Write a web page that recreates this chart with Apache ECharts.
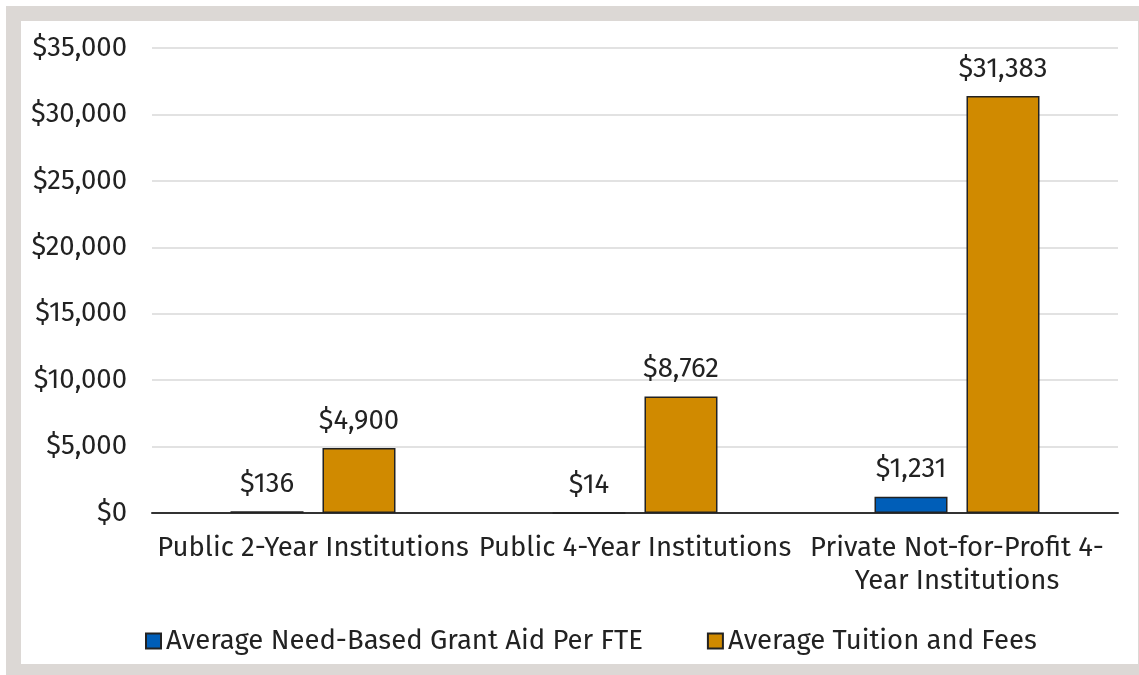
<!DOCTYPE html>
<html>
<head>
<meta charset="utf-8">
<script src="https://cdn.jsdelivr.net/npm/echarts@6/dist/echarts.min.js"></script>
<style>
html,body{margin:0;padding:0;background:#fff;}
#chart{width:1139px;height:675px;}
</style>
</head>
<body>
<div id="chart"></div>
<script>
const categories = ["Public 2-Year Institutions", "Public 4-Year Institutions", "Private Not-for-Profit 4-\nYear Institutions"];
const grantAid = [136, 14, 1231];
const tuition = [4900, 8762, 31383];
const seriesNames = ["Average Need-Based Grant Aid Per FTE", "Average Tuition and Fees"];
const yTicks = {min: 0, max: 35000, interval: 5000};

const FONT = "'Fira Sans', 'Open Sans', 'Noto Sans', sans-serif";
const FS = 27.5;
const fmt = v => '$' + Number(v).toLocaleString('en-US');

const chart = echarts.init(document.getElementById('chart'), null, {renderer: 'canvas'});
chart.setOption({
  animation: false,
  textStyle: {fontFamily: FONT},
  graphic: [
    {type: 'rect', z: -10, silent: true, shape: {x: 6, y: 6, width: 1133, height: 669}, style: {fill: '#dcd8d5'}},
    {type: 'rect', z: -9, silent: true, shape: {x: 21, y: 21, width: 1117, height: 643}, style: {fill: '#ffffff'}}
  ],
  grid: {left: 152, right: 21, top: 48, bottom: 162, containLabel: false},
  legend: {
    top: 622,
    left: 140,
    itemWidth: 15,
    itemHeight: 15,
    itemGap: 64,
    icon: 'rect',
    textStyle: {fontFamily: FONT, fontSize: FS, color: '#222', padding: [0, 0, 0, 0]},
    data: seriesNames
  },
  xAxis: {
    type: 'category',
    data: categories,
    axisLine: {lineStyle: {color: '#333', width: 2}},
    axisTick: {show: false},
    axisLabel: {fontFamily: FONT, fontSize: FS, color: '#222', margin: 19, lineHeight: 33, interval: 0}
  },
  yAxis: {
    type: 'value',
    min: yTicks.min, max: yTicks.max, interval: yTicks.interval,
    axisLine: {show: false},
    axisTick: {show: false},
    splitLine: {lineStyle: {color: '#d9d9d9', width: 1.5}},
    axisLabel: {fontFamily: FONT, fontSize: FS, color: '#222', margin: 25, formatter: fmt}
  },
  series: [
    {
      name: seriesNames[0], type: 'bar', data: grantAid,
      barWidth: 73, barGap: '26%',
      itemStyle: {color: '#005eb8', borderColor: '#222', borderWidth: 1.5},
      label: {show: true, position: 'top', distance: 13, fontFamily: FONT, fontSize: FS, color: '#222', formatter: p => fmt(p.value)}
    },
    {
      name: seriesNames[1], type: 'bar', data: tuition,
      barWidth: 73, barGap: '26%',
      itemStyle: {color: '#d08a00', borderColor: '#222', borderWidth: 1.5},
      label: {show: true, position: 'top', distance: 13, fontFamily: FONT, fontSize: FS, color: '#222', formatter: p => fmt(p.value)}
    }
  ]
});
</script>
</body>
</html>
